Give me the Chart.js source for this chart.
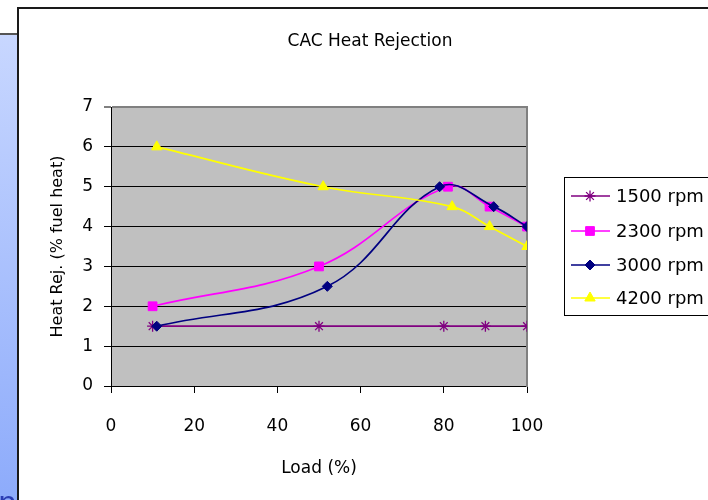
<!DOCTYPE html>
<html>
<head>
<meta charset="utf-8">
<script src="https://cdn.jsdelivr.net/npm/chart.js@4/dist/chart.umd.min.js"></script>
<style>
html,body{margin:0;padding:0;background:#fff;}
#wrap{position:relative;width:708px;height:500px;}
canvas{display:block;}
</style>
</head>
<body>
<div id="wrap"><canvas id="c" width="708" height="500"></canvas></div>
<script>
// ---- data ----
const seriesNames = ['1500 rpm', '2300 rpm', '3000 rpm', '4200 rpm'];
const load1500 = [10, 50, 80, 90, 100];
const heat1500 = [1.5, 1.5, 1.5, 1.5, 1.5];
const load2300 = [10, 50, 81, 91, 100];
const heat2300 = [2, 3, 5, 4.5, 4];
const load3000 = [11, 52, 79, 92, 100];
const heat3000 = [1.5, 2.5, 5, 4.5, 4];
const load4200 = [11, 51, 82, 91, 100];
const heat4200 = [6, 5, 4.5, 4, 3.5];
const xTicks = [0, 20, 40, 60, 80, 100];
const yTicks = [0, 1, 2, 3, 4, 5, 6, 7];
const chartTitle = 'CAC Heat Rejection';
const xTitle = 'Load (%)';
const yTitle = 'Heat Rej. (% fuel heat)';

const FONT = "'DejaVu Sans', sans-serif";
Chart.defaults.font.family = FONT;
Chart.defaults.color = '#000';

function pts(xs, ys){ return xs.map((x,i)=>({x:x, y:ys[i]})); }

const styles = [
  {color:'#800080', pointStyle:'star', radius:5.5, fill:'#800080'},
  {color:'#FF00FF', pointStyle:'rect', radius:6.2, fill:'#FF00FF'},
  {color:'#000080', pointStyle:'rectRot', radius:5, fill:'#000080'},
  {color:'#FFFF00', pointStyle:'triangle', radius:6, fill:'#FFFF00'}
];
const dataSets = [pts(load1500,heat1500), pts(load2300,heat2300), pts(load3000,heat3000), pts(load4200,heat4200)];

const datasets = dataSets.map((d,i)=>({
  label: seriesNames[i],
  data: d,
  borderColor: styles[i].color,
  backgroundColor: styles[i].fill,
  pointBackgroundColor: styles[i].fill,
  pointBorderColor: styles[i].color,
  pointStyle: styles[i].pointStyle,
  pointRadius: styles[i].radius,
  pointBorderWidth: i === 0 ? 1.3 : 1,
  borderWidth: 1.7,
  tension: 0.4,
  fill: false,
  order: 3 - i
}));

const framePlugin = {
  id: 'frame',
  beforeDraw(chart){
    const ctx = chart.ctx;
    ctx.save();
    ctx.fillStyle = '#fff';
    ctx.fillRect(0,0,708,500);
    // left blue strip
    const g = ctx.createLinearGradient(0,34,0,500);
    g.addColorStop(0,'#c8d7ff');
    g.addColorStop(1,'#8dabfb');
    ctx.fillStyle = g;
    ctx.fillRect(0,34,17,466);
    ctx.fillStyle = '#555';
    ctx.fillRect(0,33,17,2);
    ctx.fillStyle = '#2b3cb3';
    ctx.font = "30px " + FONT;
    ctx.textBaseline = 'alphabetic';
    ctx.fillText('n', -2, 513);
    // white chart box border
    ctx.fillStyle = '#1a1a1a';
    ctx.fillRect(17,7,691,2);
    ctx.fillRect(17,7,2,493);
    // plot area
    const a = chart.chartArea;
    ctx.fillStyle = '#C0C0C0';
    ctx.fillRect(a.left, a.top, a.right-a.left, a.bottom-a.top);
    ctx.restore();
  },
  afterDraw(chart){
    const ctx = chart.ctx;
    ctx.save();
    // legend box
    ctx.fillStyle = '#fff';
    ctx.fillRect(564,177,160,139);
    ctx.strokeStyle = '#000';
    ctx.lineWidth = 1;
    ctx.strokeRect(564.5,177.5,160,138);
    const rows = [196,231,265,298];
    chart.data.datasets.forEach((ds,i)=>{
      const y = rows[i];
      ctx.strokeStyle = ds.borderColor;
      ctx.lineWidth = 1.7;
      ctx.beginPath(); ctx.moveTo(571,y); ctx.lineTo(610,y); ctx.stroke();
      ctx.fillStyle = ds.pointBackgroundColor;
      ctx.strokeStyle = ds.pointBorderColor;
      ctx.lineWidth = ds.pointBorderWidth;
      Chart.helpers.drawPoint(ctx, {pointStyle: ds.pointStyle, radius: ds.pointRadius, rotation: 0, borderWidth: ds.pointBorderWidth}, 590, y);
      ctx.fillStyle = '#000';
      ctx.font = "18px " + FONT;
      ctx.textBaseline = 'middle';
      ctx.textAlign = 'left';
      ctx.fillText(ds.label, 616, y+1);
    });
    ctx.restore();
  }
};

new Chart(document.getElementById('c'), {
  type: 'line',
  data: { datasets: datasets },
  options: {
    responsive: false,
    animation: false,
    devicePixelRatio: 1,
    layout: { padding: { left: 32, right: 0, top: 0, bottom: 0 } },
    plugins: {
      legend: { display: false },
      tooltip: { enabled: false },
      title: {
        display: true, text: chartTitle,
        font: { size: 17, weight: 'normal', family: FONT },
        color: '#000',
        padding: { top: 31, bottom: 55.6 }
      }
    },
    scales: {
      x: {
        type: 'linear', min: 0, max: 100,
        afterBuildTicks(s){ s.ticks = xTicks.map(v=>({value:v})); },
        afterFit(s){ s.height = 114; },
        ticks: { font: { size: 17 }, padding: 23, color: '#000' },
        grid: { display: true, drawOnChartArea: false, drawTicks: true, tickLength: 7, color: '#000' },
        border: { display: true, color: '#000', width: 1 },
        title: { display: true, text: xTitle, font: { size: 17 }, color: '#000', padding: { top: 0, bottom: 21 } }
      },
      y: {
        type: 'linear', min: 0, max: 7,
        afterBuildTicks(s){ s.ticks = yTicks.map(v=>({value:v})); },
        afterFit(s){ s.width = 79; },
        ticks: { font: { size: 17 }, padding: 11, color: '#000' },
        grid: {
          display: true, drawTicks: true, tickLength: 7,
          color: (c)=> (c.tick && c.tick.value === 7) ? '#808080' : '#000',
          lineWidth: (c)=> (c.tick && c.tick.value === 7) ? 2 : 1
        },
        border: { display: true, color: '#000', width: 1 },
        title: { display: true, text: yTitle, font: { size: 16 }, color: '#000', padding: { top: 16.4, bottom: 0 } }
      },
      yRight: {
        type: 'linear', position: 'right', min: 0, max: 7,
        afterFit(s){ s.width = 181; },
        ticks: { display: false },
        grid: { display: false, drawOnChartArea: false },
        border: { display: true, color: '#808080', width: 2 }
      }
    }
  },
  plugins: [framePlugin]
});
</script>
</body>
</html>
